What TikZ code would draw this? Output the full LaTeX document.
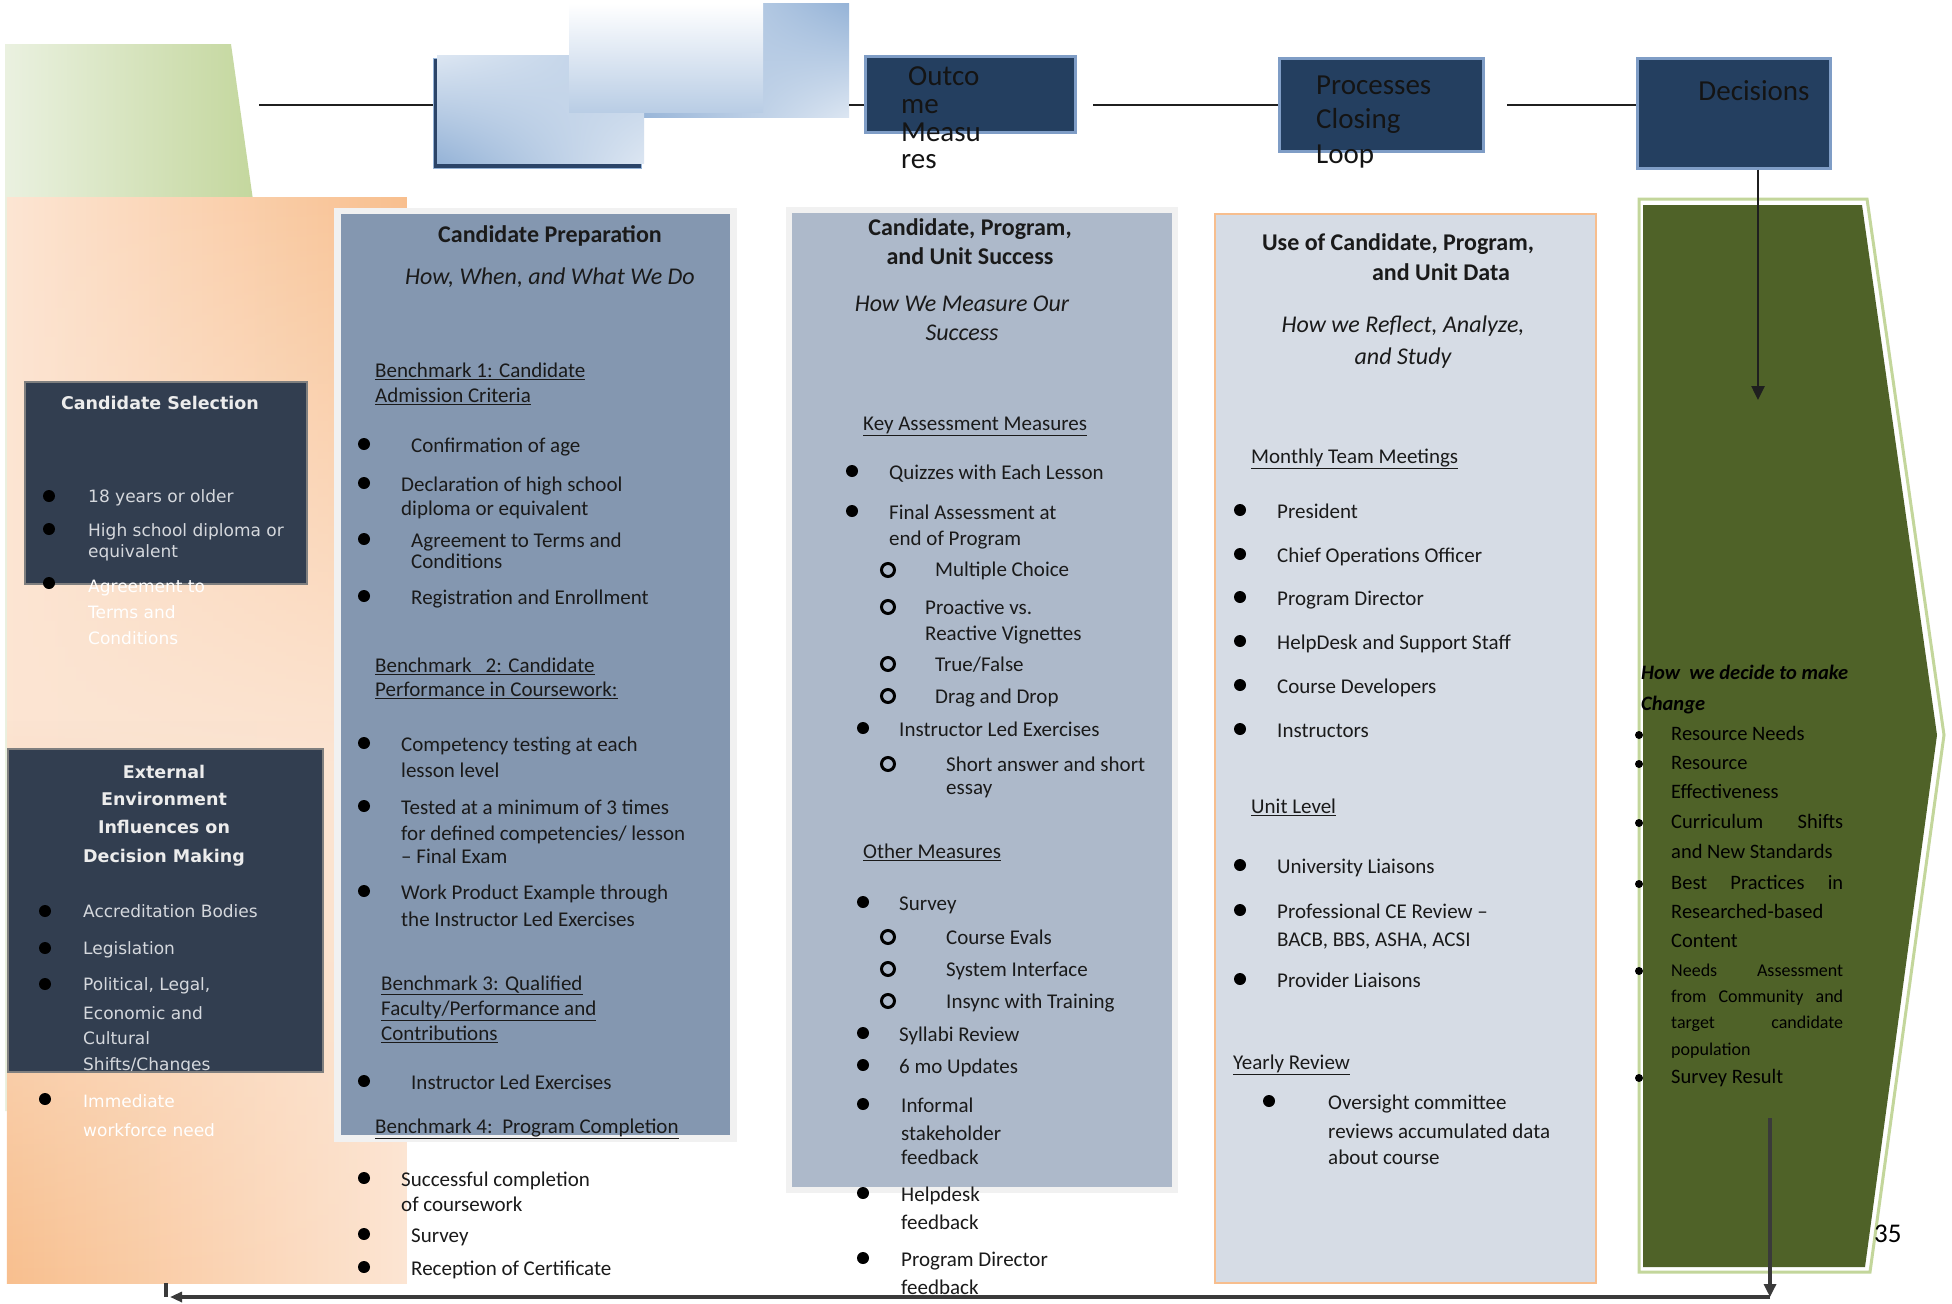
\documentclass[tikz,border=0pt]{standalone}
\usepackage{fontspec}
\setmainfont{Carlito}
\newfontfamily\dvs{DejaVu Sans}
\usetikzlibrary{arrows.meta,fadings,shadings}
\definecolor{navyb}{HTML}{243F60}
\definecolor{navyedge}{HTML}{7F9DC6}
\definecolor{slate}{HTML}{323E50}
\definecolor{slateedge}{HTML}{7F7F7F}
\definecolor{pA}{HTML}{8497B0}
\definecolor{pB}{HTML}{ADB9CA}
\definecolor{pC}{HTML}{D6DCE5}
\definecolor{pedge}{HTML}{F1F1F1}
\definecolor{oedge}{HTML}{F7BE8E}
\definecolor{peachL}{HTML}{FCE5D3}
\definecolor{peachD}{HTML}{F8BF8E}
\definecolor{grnL}{HTML}{EAF1E0}
\definecolor{grnD}{HTML}{C4D79E}
\definecolor{olive}{HTML}{4F6228}
\definecolor{oliveedge}{HTML}{C3D69B}
\definecolor{bluL}{HTML}{DCE6F2}
\definecolor{bluM}{HTML}{B9CDE5}
\definecolor{bluD}{HTML}{95B3D7}
\definecolor{navyS}{HTML}{2B4468}
\definecolor{txc}{HTML}{1A1A1A}
\definecolor{lgt}{HTML}{D5D8DD}
\definecolor{ttl}{HTML}{ECECEC}
\definecolor{fbc}{HTML}{3A3A3A}
\newcommand\fs[1]{\fontsize{#1}{#1}\selectfont}
\newcounter{nn}
\newcommand\txtnodeX[4]{\node[body,#2] (#1) at (#3) {#4};}
\newcommand\Tn[3][]{\stepcounter{nn}\edef\tmpn{n\arabic{nn}}\expandafter\txtnodeX\expandafter{\tmpn}{#1}{#2}{#3}}
\newcommand\bulnodeX[3]{\node[bul,#2] (#1) at (#3) {};}
\newcommand\Bn[2][]{\stepcounter{nn}\edef\tmpn{b\arabic{nn}}\expandafter\bulnodeX\expandafter{\tmpn}{#1}{#2}}
\tikzfading[name=fadeDown, top color=transparent!0, bottom color=transparent!100]
\tikzfading[name=fadeUp, top color=transparent!100, bottom color=transparent!0]
\begin{document}
\begin{tikzpicture}[x=1pt,y=-1pt,
  body/.style={anchor=west, inner sep=0pt, font=\fs{21}, text=txc, text height=15pt, text depth=4pt},
  bul/.style={circle, fill=black, inner sep=0pt, minimum size=12pt},
  ring/.style={fill=none, draw=black, line width=3pt, minimum size=13pt},
  sbul/.style={minimum size=8pt},
  lf/.style={font=\dvs\fs{17}, text=lgt, text height=12pt, text depth=3pt},
  wt/.style={font=\dvs\fs{17}, text=white, text height=12pt, text depth=3pt},
  lt/.style={anchor=center, font=\dvs\bfseries\fs{17.5}, text=ttl, text height=12pt, text depth=3pt},
  ttlb/.style={anchor=center, font=\bfseries\fs{24}},
  ital/.style={anchor=center, font=\itshape\fs{24}},
  topbox/.style={draw=navyedge, line width=2.5pt, fill=navyb, anchor=north west, inner sep=0pt},
  boxt/.style={font=\fs{29}, text=black!92, text height=19pt, text depth=6pt},
  panel/.style={anchor=north west, inner sep=0pt},
  conn/.style={line width=2.6pt, black!88},
  fbl/.style={line width=3.2pt, fbc},
  chv/.style={font=\fs{20.5}, text=black},
  chs/.style={font=\fs{18}, text=black}
]
\useasboundingbox (0,0) rectangle (1952,1304);
\fill[white] (0,0) rectangle (1952,1304);

% green trapezoid
\shade[left color=grnL, right color=grnD] (5,44) -- (231,44) -- (253,200) -- (253,1111) -- (5,1111) -- cycle;

% orange panel
\fill[peachL] (7,197) rectangle (407,1283);
\shade[left color=peachL, right color=peachD, path fading=fadeDown] (7,197) rectangle (407,760);
\shade[left color=peachD, right color=peachL, path fading=fadeUp] (7,720) rectangle (407,1283);

% left dark boxes
\node[panel, draw=slateedge, line width=1.5pt, fill=slate, minimum width=282pt, minimum height=202pt] (cs) at (24,381) {};
\Tn[lt]{160,405}{Candidate Selection}
\Bn{49,496} \Tn[lf]{88,498}{18 years or older}
\Bn{49,529} \Tn[lf]{88,532}{High school diploma or} \Tn[lf]{88,553}{equivalent}
\Bn{49,583} \Tn[wt]{88,588}{Agreement to} \Tn[wt]{88,614}{Terms and} \Tn[wt]{88,640}{Conditions}

\node[panel, draw=slateedge, line width=1.5pt, fill=slate, minimum width=315pt, minimum height=323pt] (ext) at (7,748) {};
\Tn[lt]{164,774}{External}
\Tn[lt]{164,801}{Environment}
\Tn[lt]{164,829}{Influences on}
\Tn[lt]{164,858}{Decision Making}
\Bn{45,911} \Tn[lf]{83,913}{Accreditation Bodies}
\Bn{45,948} \Tn[lf]{83,950}{Legislation}
\Bn{45,984} \Tn[lf]{83,986}{Political, Legal,}
\Tn[lf]{83,1015}{Economic and}
\Tn[lf]{83,1040}{Cultural}
\begin{scope}
\clip (7,748) rectangle (322,1070);
\Tn[lf]{83,1066}{Shifts/Changes}
\end{scope}
\Bn{45,1099} \Tn[wt]{83,1103}{Immediate} \Tn[wt]{83,1132}{workforce need}

% panel 1
\node[panel, fill=pedge, minimum width=403pt, minimum height=934pt] (p1o) at (334,208) {};
\node[panel, fill=pA, minimum width=389pt, minimum height=921pt] (p1) at (341,214) {};
\Tn[ttlb]{550,237}{Candidate Preparation}
\Tn[ital]{550,279}{How, When, and What We Do}
\Tn{375,372}{\underline{Benchmark 1: Candidate}}
\Tn{375,397}{\underline{Admission Criteria}}
\Bn{364,444} \Tn{411,447}{Confirmation of age}
\Bn{364,483} \Tn{401,486}{Declaration of high school} \Tn{401,510}{diploma or equivalent}
\Bn{364,539} \Tn{411,542}{Agreement to Terms and} \Tn{411,563}{Conditions}
\Bn{364,596} \Tn{411,599}{Registration and Enrollment}
\Tn{375,667}{\underline{Benchmark\hspace{14pt}2: Candidate}}
\Tn{375,691}{\underline{Performance in Coursework:}}
\Bn{364,743} \Tn{401,746}{Competency testing at each} \Tn{401,772}{lesson level}
\Bn{364,806} \Tn{401,809}{Tested at a minimum of 3 times} \Tn{401,835}{for defined competencies/ lesson} \Tn{401,858}{– Final Exam}
\Bn{364,891} \Tn{401,894}{Work Product Example through} \Tn{401,921}{the Instructor Led Exercises}
\Tn{381,985}{\underline{Benchmark 3: Qualified}}
\Tn{381,1010}{\underline{Faculty/Performance and}}
\Tn{381,1035}{\underline{Contributions}}
\Bn{364,1081} \Tn{411,1084}{Instructor Led Exercises}
\Tn{375,1128}{\underline{Benchmark 4:\ \ Program Completion}}
\Bn{364,1178} \Tn{401,1181}{Successful completion} \Tn{401,1206}{of coursework}
\Bn{364,1234} \Tn{411,1237}{Survey}
\Bn{364,1267} \Tn{411,1270}{Reception of Certificate}

% panel 2
\node[panel, fill=pedge, minimum width=392pt, minimum height=986pt] (p2o) at (786,207) {};
\node[panel, fill=pB, minimum width=380pt, minimum height=974pt] (p2) at (792,213) {};
\Tn[ttlb]{970,230}{Candidate, Program,}
\Tn[ttlb]{970,259}{and Unit Success}
\Tn[ital]{962,306}{How We Measure Our}
\Tn[ital]{962,335}{Success}
\Tn{863,425}{\underline{Key Assessment Measures}}
\Bn{852,471} \Tn{889,474}{Quizzes with Each Lesson}
\Bn{852,511} \Tn{889,514}{Final Assessment at} \Tn{889,540}{end of Program}
\Bn[ring]{888,570} \Tn{935,571}{Multiple Choice}
\Bn[ring]{888,607} \Tn{925,609}{Proactive vs.} \Tn{925,635}{Reactive Vignettes}
\Bn[ring]{888,664} \Tn{935,666}{True/False}
\Bn[ring]{888,696} \Tn{935,698}{Drag and Drop}
\Bn{863,728} \Tn{899,731}{Instructor Led Exercises}
\Bn[ring]{888,764} \Tn{946,766}{Short answer and short} \Tn{946,789}{essay}
\Tn{863,853}{\underline{Other Measures}}
\Bn{863,902} \Tn{899,905}{Survey}
\Bn[ring]{888,937} \Tn{946,939}{Course Evals}
\Bn[ring]{888,969} \Tn{946,971}{System Interface}
\Bn[ring]{888,1001} \Tn{946,1003}{Insync with Training}
\Bn{863,1033} \Tn{899,1036}{Syllabi Review}
\Bn{863,1065} \Tn{899,1068}{6 mo Updates}
\Bn{863,1104} \Tn{901,1107}{Informal} \Tn{901,1135}{stakeholder} \Tn{901,1159}{feedback}
\Bn{863,1193} \Tn{901,1196}{Helpdesk} \Tn{901,1224}{feedback}
\Bn{863,1258} \Tn{901,1261}{Program Director} \Tn{901,1289}{feedback}

% panel 3
\node[panel, fill=pC, draw=oedge, line width=2pt, minimum width=381pt, minimum height=1069pt] (p3) at (1214,213) {};
\Tn[ttlb]{1398,245}{Use of Candidate, Program,}
\Tn[ttlb]{1441,275}{and Unit Data}
\Tn[ital]{1403,327}{How we Reflect, Analyze,}
\Tn[ital]{1403,359}{and Study}
\Tn{1251,458}{\underline{Monthly Team Meetings}}
\Bn{1240,510} \Tn{1277,513}{President}
\Bn{1240,554} \Tn{1277,557}{Chief Operations Officer}
\Bn{1240,597} \Tn{1277,600}{Program Director}
\Bn{1240,641} \Tn{1277,644}{HelpDesk and Support Staff}
\Bn{1240,685} \Tn{1277,688}{Course Developers}
\Bn{1240,729} \Tn{1277,732}{Instructors}
\Tn{1251,808}{\underline{Unit Level}}
\Bn{1240,865} \Tn{1277,868}{University Liaisons}
\Bn{1240,910} \Tn{1277,913}{Professional CE Review –} \Tn{1277,941}{BACB, BBS, ASHA, ACSI}
\Bn{1240,979} \Tn{1277,982}{Provider Liaisons}
\Tn{1233,1064}{\underline{Yearly Review}}
\Bn{1269,1101} \Tn{1328,1104}{Oversight committee} \Tn{1328,1133}{reviews accumulated data} \Tn{1328,1159}{about course}

% top gradient boxes
\node[panel, minimum width=215pt, minimum height=114pt, upper right=bluD, lower left=bluD, upper left=bluL, lower right=bluL] (gA) at (634,3) {};
\node[panel, fill=navyS, draw=bluD, line width=0.8pt, minimum width=208pt, minimum height=110pt] (gCs) at (433,58) {};
\node[panel, minimum width=207pt, minimum height=108pt, upper left=bluL, upper right=bluM, lower left=bluD, lower right=bluL] (gC) at (437,55) {};
\node[panel, minimum width=194pt, minimum height=109pt, top color=white, bottom color=bluM] (gB) at (569,3) {};

% top navy boxes
\node[topbox, minimum width=210pt, minimum height=76pt] (outc) at (864,55) {};
\node[topbox, minimum width=204pt, minimum height=93pt] (proc) at (1278,57) {};
\node[topbox, minimum width=193pt, minimum height=110pt] (deci) at (1636,57) {};
\Tn[boxt]{908,79}{Outco}
\Tn[boxt]{901,107}{me}
\Tn[boxt]{901,135}{Measu}
\Tn[boxt]{901,162}{res}
\Tn[boxt]{1316,88}{Processes}
\Tn[boxt]{1316,122}{Closing}
\Tn[boxt]{1316,157}{Loop}
\Tn[boxt, anchor=center]{1754,94}{Decisions}

% chevron
\draw[oliveedge, line width=3pt, fill=white] (1639,199) -- (1867,199) -- (1944,735) -- (1870,1272) -- (1639,1272) -- cycle;
\fill[olive] (1643,205) -- (1862,205) -- (1937,735) -- (1865,1267) -- (1643,1267) -- cycle;
\Tn[font=\bfseries\itshape\fs{20.5}, text=black]{1641,674}{How\ \ we decide to make}
\Tn[font=\bfseries\itshape\fs{20.5}, text=black]{1641,705}{Change}
\Bn[sbul]{1639,735} \Tn[chv]{1671,735}{Resource Needs}
\Bn[sbul]{1639,764} \Tn[chv]{1671,764}{Resource} \Tn[chv]{1671,793}{Effectiveness}
\Bn[sbul]{1639,823} \Tn[chv]{1671,823}{\makebox[172pt][s]{Curriculum Shifts}} \Tn[chv]{1671,853}{and New Standards}
\Bn[sbul]{1639,884} \Tn[chv]{1671,884}{\makebox[172pt][s]{Best Practices in}} \Tn[chv]{1671,913}{Researched-based} \Tn[chv]{1671,942}{Content}
\Bn[sbul]{1639,971} \Tn[chs]{1671,971}{\makebox[172pt][s]{Needs Assessment}} \Tn[chs]{1671,997}{\makebox[172pt][s]{from Community and}} \Tn[chs]{1671,1023}{\makebox[172pt][s]{target candidate}} \Tn[chs]{1671,1050}{population}
\Bn[sbul]{1639,1078} \Tn[chv]{1671,1078}{Survey Result}
\Tn[font=\fs{27}, text=black, text height=18pt, text depth=5pt]{1874,1236}{35}

% connectors
\coordinate (l0) at (259,105);
\coordinate (l1) at (1093,105);
\coordinate (l2) at (1507,105);
\coordinate (d1) at (1758,400);
\draw[conn] (l0) -- (l0 -| gCs.west);
\draw[conn] (gA.east |- l0) -- (outc.west |- l0);
\draw[conn] (l1) -- (l1 -| proc.west);
\draw[conn] (l2) -- (l2 -| deci.west);
\draw[conn, -{Triangle[length=14pt,width=13pt]}] (deci.south -| d1) -- (d1);

\coordinate (fbA) at (1770,1118);
\coordinate (fbB) at (1770,1297);
\coordinate (fbC) at (170,1297);
\coordinate (fbD) at (166,1283);
\draw[fbl, -{Triangle[length=13pt,width=12pt]}] (fbA) -- (fbB);
\draw[fbl, -{Triangle[length=12pt,width=10pt]}] (fbB) -- (fbC);
\draw[fbl] (fbD) -- (fbD |- fbC);
\end{tikzpicture}
\end{document}
